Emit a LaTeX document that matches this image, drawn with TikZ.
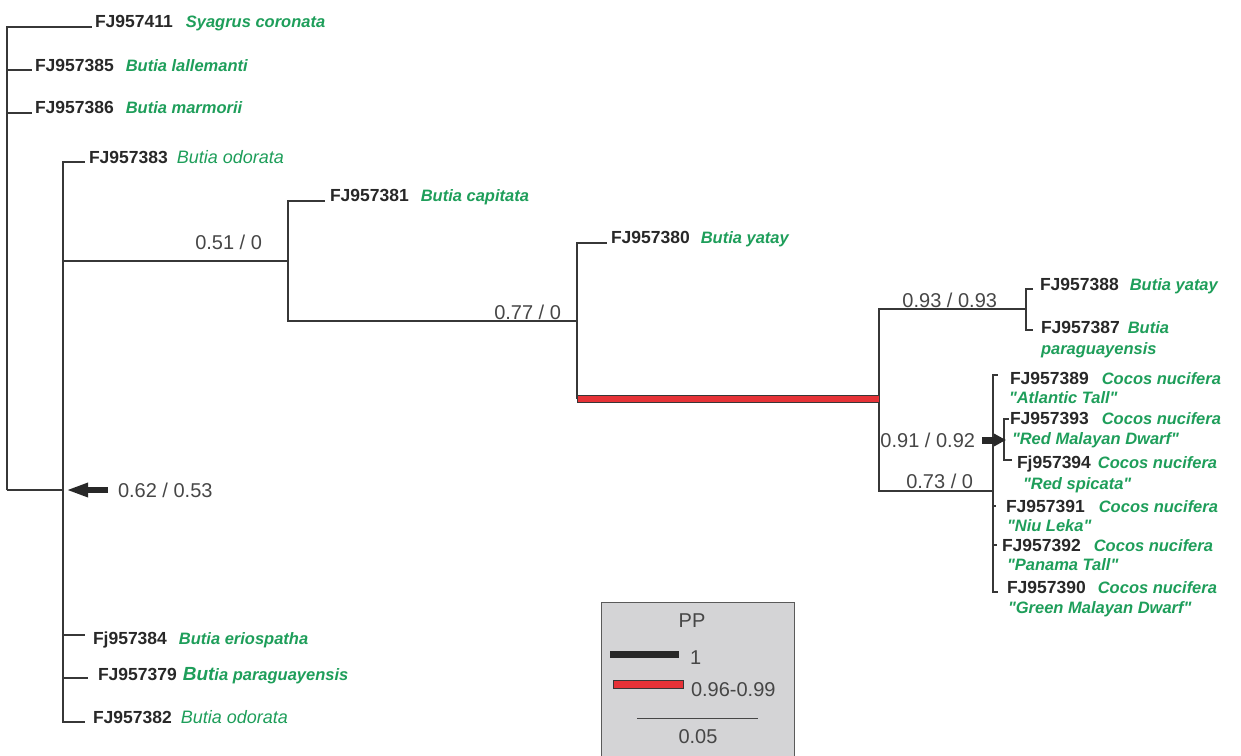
\documentclass[tikz,border=0pt]{standalone}
\usepackage{fontspec}
\setmainfont{Liberation Sans}[Ligatures=TeXOff]
\usetikzlibrary{arrows.meta}

\definecolor{branch}{RGB}{55,55,55}
\definecolor{idgray}{RGB}{40,40,40}
\definecolor{spgreen}{RGB}{30,158,90}
\definecolor{numgray}{RGB}{70,70,70}
\definecolor{ppred}{RGB}{230,50,55}
\definecolor{legendfill}{RGB}{212,212,214}
\definecolor{legendborder}{RGB}{90,90,90}

% text styles: accession number, species (bold italic), species (plain italic), support values
\newcommand\txid{\fontsize{17.5}{20}\selectfont\bfseries\color{idgray}}
\newcommand\txsp{\fontsize{16.5}{20}\selectfont\bfseries\itshape\color{spgreen}}
\newcommand\txspr{\fontsize{18}{20}\selectfont\mdseries\itshape\color{spgreen}}
\newcommand\txnum{\fontsize{20}{24}\selectfont\color{numgray}}

\tikzset{
  edge/.style={draw=branch, line width=1.3pt},
  leaf/.style={anchor=base west, inner sep=0pt, outer sep=0pt},
  supp/.style={anchor=base east, inner sep=0pt, outer sep=0pt, font=\txnum},
  pointer/.style={draw=idgray, fill=idgray},
  redbar/.style={fill=ppred, draw=branch, line width=0.8pt},
}

\begin{document}
\begin{tikzpicture}[x=1pt, y=-1pt]
\useasboundingbox (0,0) rectangle (1241,755);

% ---------- internal nodes ----------
\coordinate (root) at (7,490);
\coordinate (nA) at (63,490);
\coordinate (nB) at (288,261);
\coordinate (nC) at (577,321);
\coordinate (nCb) at (577,399);
\coordinate (nD) at (879,399);
\coordinate (nE) at (1026,309);
\coordinate (nF) at (993,491);
\coordinate (nG) at (1004,440);

% ---------- branch tips ----------
\coordinate (t411) at (92,27);
\coordinate (t385) at (32,70);
\coordinate (t386) at (32,113);
\coordinate (t383) at (85,162);
\coordinate (t381) at (325,201);
\coordinate (t380) at (607,243);
\coordinate (t388) at (1033,289);
\coordinate (t387) at (1033,330);
\coordinate (t389) at (998,375);
\coordinate (t393) at (1009,419);
\coordinate (t394) at (1012,460);
\coordinate (t391) at (996,506);
\coordinate (t392) at (997,545);
\coordinate (t390) at (998,592);
\coordinate (t384) at (85,635);
\coordinate (t379) at (88,678);
\coordinate (t382) at (85,722);

% ---------- branches ----------
\draw[edge] (root) |- (t411);
\draw[edge] (root) |- (t385);
\draw[edge] (root) |- (t386);
\draw[edge] (root) -- (nA);

\draw[edge] (nA) |- (t383);
\draw[edge] (nA) |- (nB);
\draw[edge] (nA) |- (t384);
\draw[edge] (nA) |- (t379);
\draw[edge] (nA) |- (t382);

\draw[edge] (nB) |- (t381);
\draw[edge] (nB) |- (nC);

\draw[edge] (nC) |- (t380);
\draw[edge] (nC) -- (nCb);

\draw[edge] (nD) |- (nE);
\draw[edge] (nD) |- (nF);

\draw[edge] (nE) |- (t388);
\draw[edge] (nE) |- (t387);

\draw[edge] (nF) |- (t389);
\draw[edge] (nF) |- (t391);
\draw[edge] (nF) |- (t392);
\draw[edge] (nF) |- (t390);
\draw[edge] (nF |- nG) -- (nG);
\draw[edge] (nG) |- (t393);
\draw[edge] (nG) |- (t394);

% branch with PP 0.96-0.99
\draw[redbar] ([yshift=3.5pt]nCb) rectangle ([yshift=-3.5pt]nD);

% ---------- leaf labels ----------
\node[leaf] (l411) at (95,27)  {\txid FJ957411\hspace{13pt}\txsp Syagrus coronata};
\node[leaf] (l385) at (35,71)  {\txid FJ957385\hspace{12pt}\txsp Butia lallemanti};
\node[leaf] (l386) at (35,113) {\txid FJ957386\hspace{12pt}\txsp Butia marmorii};
\node[leaf] (l383) at (89,163) {\txid FJ957383\hspace{9pt}\txspr Butia odorata};
\node[leaf] (l381) at (330,201) {\txid FJ957381\hspace{12pt}\txsp Butia capitata};
\node[leaf] (l380) at (611,243) {\txid FJ957380\hspace{11pt}\txsp Butia yatay};

\node[leaf] (l388) at (1040,290) {\txid FJ957388\hspace{11pt}\txsp Butia yatay};
\node[leaf] (l387) at (1041,333) {\txid FJ957387\hspace{8pt}\txsp Butia};
\node[leaf] (l387b) at (1041,354) {\txsp paraguayensis};

\node[leaf] (l389) at (1010,384) {\txid FJ957389\hspace{13pt}\txsp Cocos nucifera};
\node[leaf] (l389b) at (1009,403) {\txsp "Atlantic Tall"};
\node[leaf] (l393) at (1010,424) {\txid FJ957393\hspace{13pt}\txsp Cocos nucifera};
\node[leaf] (l393b) at (1012,444) {\txsp "Red Malayan Dwarf"};
\node[leaf] (l394) at (1017,468) {\txid Fj957394\hspace{7pt}\txsp Cocos nucifera};
\node[leaf] (l394b) at (1023,489) {\txsp "Red spicata"};
\node[leaf] (l391) at (1006,512) {\txid FJ957391\hspace{14pt}\txsp Cocos nucifera};
\node[leaf] (l391b) at (1007,531) {\txsp "Niu Leka"};
\node[leaf] (l392) at (1002,551) {\txid FJ957392\hspace{13pt}\txsp Cocos nucifera};
\node[leaf] (l392b) at (1007,570) {\txsp "Panama Tall"};
\node[leaf] (l390) at (1007,593) {\txid FJ957390\hspace{12pt}\txsp Cocos nucifera};
\node[leaf] (l390b) at (1008,613) {\txsp "Green Malayan Dwarf"};

\node[leaf] (l384) at (93,644) {\txid Fj957384\hspace{12pt}\txsp Butia eriospatha};
\node[leaf] (l379) at (98,680) {\txid FJ957379\hspace{6pt}\txsp{\fontsize{19}{20}\selectfont But}ia paraguayensis};
\node[leaf] (l382) at (93,723) {\txid FJ957382\hspace{9pt}\txspr Butia odorata};

% ---------- support values ----------
\node[supp] (s51) at (262,249) {0.51 / 0};
\node[supp] (s77) at (561,319) {0.77 / 0};
\node[supp] (s93) at (997,307) {0.93 / 0.93};
\node[supp] (s91) at (975,447) {0.91 / 0.92};
\node[supp] (s73) at (973,488) {0.73 / 0};
\node[leaf, font=\txnum] (s62) at (118,497) {0.62 / 0.53};

% ---------- pointers ----------
\coordinate (p62tail) at (108,490);
\coordinate (p62tip)  at (66,490);
\draw[pointer, line width=5.5pt, -{Triangle[length=22pt, width=13pt]}] (p62tail) -- (p62tip);
\coordinate (p91tail) at (982,440);
\coordinate (p91tip)  at (1006,440);
\draw[pointer, line width=7pt, -{Triangle[length=12pt, width=12pt]}] (p91tail) -- (p91tip);

% ---------- legend ----------
\node[draw=legendborder, fill=legendfill, line width=1.2pt, anchor=north west,
      minimum width=193pt, minimum height=160pt, inner sep=0pt] (legend) at (601,602) {};
\node[anchor=base, inner sep=0pt, font=\txnum] (ppt) at (692,627) {PP};
\fill[idgray] (610,651) rectangle (679,658);
\node[leaf, font=\txnum] (pp1) at (690,664) {1};
\draw[redbar] (613,680) rectangle (683,688);
\node[leaf, font=\txnum] (pp2) at (691,696) {0.96-0.99};
\coordinate (sbL) at (637,718);
\coordinate (sbR) at (758,718);
\draw[draw=numgray, line width=1pt] (sbL) -- (sbR);
\node[anchor=base, inner sep=0pt, font=\txnum] (sbt) at (698,743) {0.05};

\end{tikzpicture}
\end{document}
